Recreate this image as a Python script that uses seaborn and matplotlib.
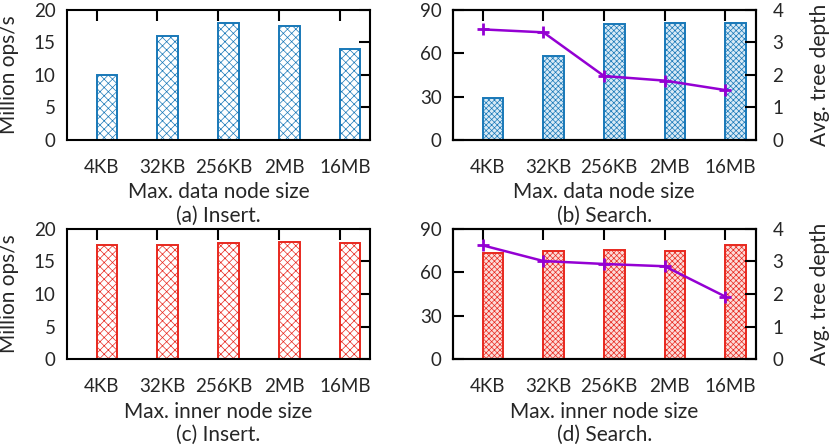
import numpy as np
import pandas as pd
import matplotlib
matplotlib.use("Agg")
import matplotlib.pyplot as plt
import seaborn as sns

# ---- data ----
sizes = ["4KB", "32KB", "256KB", "2MB", "16MB"]
insert_data = [10.0, 16.0, 18.0, 17.4, 14.0]
search_data = [28.7, 58.0, 79.7, 80.8, 80.8]
depth_data = [3.39, 3.30, 1.96, 1.82, 1.53]
insert_inner = [17.45, 17.45, 17.85, 18.0, 17.85]
search_inner = [73.2, 74.8, 75.0, 74.8, 78.9]
depth_inner = [3.49, 3.01, 2.92, 2.85, 1.92]

xlabels = ["Max. data node size", "Max. inner node size"]
subtitles = ["(a) Insert.", "(b) Search.", "(c) Insert.", "(d) Search."]
ylabel_left = "Million ops/s"
ylabel_right = "Avg. tree depth"

FS_TICK = 13.5
FS_LAB = 15

sns.set_theme(style="white")
plt.rcParams["font.family"] = ["Lato", "DejaVu Sans"]
plt.rcParams["font.size"] = FS_TICK
plt.rcParams["hatch.linewidth"] = 0.5

BLUE = "#1878b8"
BLUE_LIGHT = "#d8eaf6"
RED = "#e8281e"
RED_LIGHT = "#fcdcd9"
PURPLE = "#9400d3"

W, H = 830, 447
fig = plt.figure(figsize=(W / 100, H / 100), dpi=100)

def axrect(l, t, r, b):
    return [l / W, 1 - b / H, (r - l) / W, (b - t) / H]

BW = 0.34
XLIM = (-0.665, 4.33)

def style_common(ax, ymax, ystep):
    for s in ax.spines.values():
        s.set_linewidth(1.5)
        s.set_color("black")
        s.set_visible(True)
    ax.set_ylim(0, ymax)
    ax.set_yticks(np.arange(0, ymax + 0.1, ystep))
    ax.set_xlim(*XLIM)
    n = len(sizes)
    ax.set_xticks(np.arange(n) - BW / 4, labels=sizes)
    ax.set_xticks(np.arange(n) - BW / 2, minor=True)
    ax.tick_params(axis="x", which="major", length=0, pad=13.5, labelsize=FS_TICK)
    ax.tick_params(axis="x", which="minor", direction="in", top=True, bottom=False,
                   length=8, width=1.5, color="black")
    ax.tick_params(axis="y", which="major", direction="in", length=8, width=1.5,
                   pad=8, labelsize=FS_TICK, color="black")
    ax.set_xlabel("")
    ax.set_ylabel("")

def panel(box, values, color, face, hatch, ymax, ystep, xlabel, sub, left_label,
          depth=None):
    l, t, r, b = box
    ax = fig.add_axes(axrect(l, t, r, b))
    df = pd.DataFrame({"size": sizes, "val": values})
    sns.barplot(data=df, x="size", y="val", ax=ax, width=BW, color=face,
                edgecolor=color, linewidth=1.4, hatch=hatch, saturation=1,
                errorbar=None)
    style_common(ax, ymax, ystep)
    ax.annotate(xlabel, xy=(0.5, 0), xycoords="axes fraction", xytext=(0, -42),
                textcoords="offset points", ha="center", va="baseline", fontsize=FS_LAB)
    ax.annotate(sub, xy=(0.5, 0), xycoords="axes fraction", xytext=(0, -58.8),
                textcoords="offset points", ha="center", va="baseline", fontsize=FS_LAB)
    yc = 1 - ((t + b) / 2) / H
    if left_label:
        fig.text(9.5 / W, yc, ylabel_left, rotation=90, ha="center", va="center",
                 fontsize=FS_LAB)
    if depth is None:
        ax.tick_params(axis="y", right=True)
    else:
        ax2 = ax.twinx()
        pos = np.arange(len(sizes)) - BW / 2
        sns.lineplot(x=pos, y=depth, ax=ax2, color=PURPLE, linewidth=1.8,
                     marker="+", markersize=8.5, markeredgewidth=2,
                     markeredgecolor=PURPLE)
        ax2.set_ylim(0, 4)
        ax2.set_yticks(np.arange(0, 5, 1))
        ax2.set_xlim(*XLIM)
        ax2.tick_params(axis="y", direction="in", length=8, width=1.5, pad=12,
                        labelsize=FS_TICK, color="black")
        for s in ax2.spines.values():
            s.set_linewidth(1.5)
            s.set_color("black")
        ax2.set_ylabel("")
        ax2.set_xlabel("")
        fig.text(819.5 / W, yc, ylabel_right, rotation=90, ha="center", va="center",
                 fontsize=FS_LAB)
    return ax

panel((66.7, 9.5, 370, 140), insert_data, BLUE, "white", "xxxx", 20, 5,
      xlabels[0], subtitles[0], True)
panel((452.7, 9.5, 755.7, 140), search_data, BLUE, BLUE_LIGHT, "xxxxxx", 90, 30,
      xlabels[0], subtitles[1], False, depth_data)
panel((66.7, 228.7, 370, 359.3), insert_inner, RED, "white", "xxxx", 20, 5,
      xlabels[1], subtitles[2], True)
panel((452.7, 228.7, 755.7, 359.3), search_inner, RED, RED_LIGHT, "xxxxxx", 90, 30,
      xlabels[1], subtitles[3], False, depth_inner)

fig.savefig("out.png", dpi=100)
